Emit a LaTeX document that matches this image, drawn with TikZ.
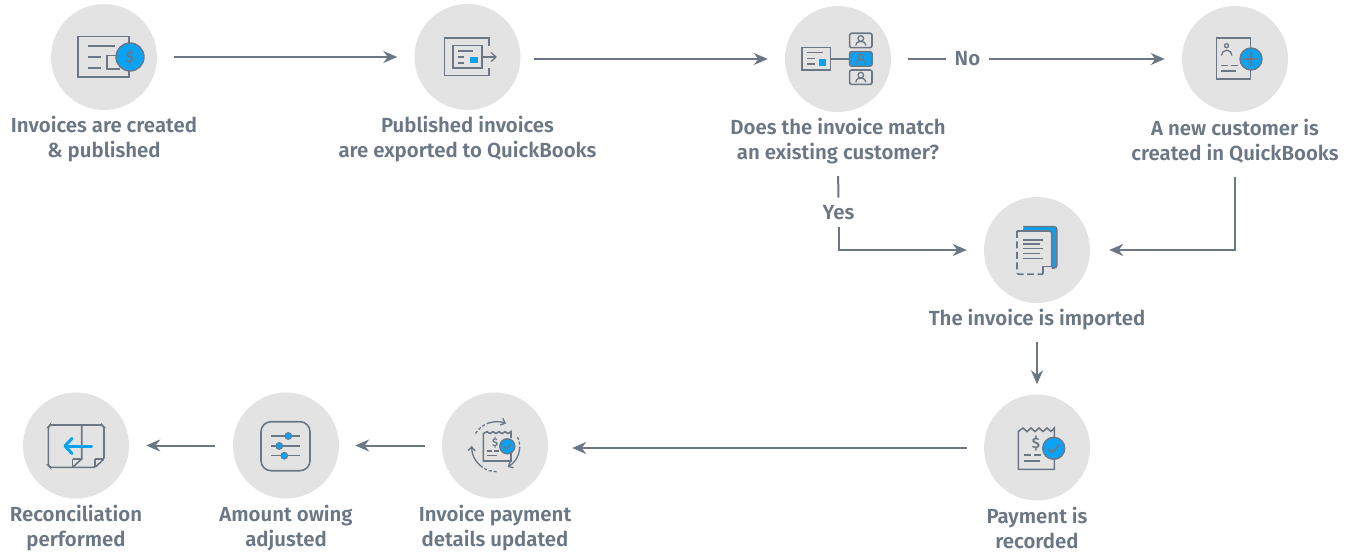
\documentclass[tikz,border=0pt]{standalone}
\usepackage{fontspec}
\setmainfont{Fira Sans}[UprightFont=* SemiBold]
\usetikzlibrary{arrows.meta,calc}
\definecolor{ink}{HTML}{6B7785}
\definecolor{disc}{HTML}{E3E3E3}
\definecolor{sky}{HTML}{0AA2F5}
\tikzset{
 x=1pt,y=-1pt,
 disc/.style={circle,fill=disc,minimum size=106pt,inner sep=0pt},
 lab/.style={text=ink,align=center,font=\fontsize{20.4}{25}\selectfont,inner sep=0pt},
 conn/.style={draw=ink,line width=2pt,-{Stealth[length=14pt,width=12pt]}},
 plain/.style={draw=ink,line width=2pt},
 ic/.style={draw=ink,line width=1.6pt},
 thin ic/.style={draw=ink,line width=1.3pt},
 badge/.style={fill=sky,draw=ink,line width=1.4pt},
 sym/.style={text=ink,font=\fontsize{15}{15}\selectfont,inner sep=0pt}
}
\begin{document}
\begin{tikzpicture}
\useasboundingbox (0,0) rectangle (1355,553);
% discs
\node[disc] (c1) at (104,57) {};
\node[disc] (c2) at (467.5,57) {};
\node[disc] (c3) at (838,59) {};
\node[disc] (c4) at (1235,59) {};
\node[disc] (c5) at (1037,250) {};
\node[disc] (c6) at (1037,447.5) {};
\node[disc] (c7) at (495,445.5) {};
\node[disc] (c8) at (286,445.5) {};
\node[disc] (c9) at (76,445.5) {};
% labels
\node[lab] (l1) at (104,139) {Invoices are created\\\&~published};
\node[lab] (l2) at (467.5,139) {Published invoices\\are exported to QuickBooks};
\node[lab] (l3) at (838,141) {Does the invoice match\\an existing customer?};
\node[lab] (l4) at (1235,141) {A new customer is\\created in QuickBooks};
\node[lab] (l5) at (1037,319.5) {The invoice is imported};
\node[lab] (l6) at (1037,528) {Payment is\\recorded};
\node[lab] (l7) at (495,528) {Invoice payment\\details updated};
\node[lab] (l8) at (286,528) {Amount owing\\adjusted};
\node[lab] (l9) at (76,528) {Reconciliation\\performed};
\node[lab] (no) at (967.5,59) {No};
\node[lab] (yes) at (838.5,213) {Yes};
% connectors
\draw[conn,shorten <=17pt,shorten >=17pt] (c1.east) -- (c2.west);
\draw[conn,shorten <=13pt,shorten >=17pt] ($(c2.east)+(0,2)$) -- (c3.west);
\draw[plain,shorten <=17pt,shorten >=9pt] (c3.east) -- (no.west);
\draw[conn,shorten <=9pt,shorten >=17pt] (no.east) -- (c4.west);
\draw[plain,shorten <=12pt,shorten >=8pt] (l3.south) -- (yes.north);
\draw[conn,shorten <=7pt,shorten >=17pt] (yes.south) |- (c5.west);
\draw[conn,shorten <=14pt,shorten >=19pt] (l4.south) |- (c5.east);
\draw[conn,shorten <=12pt,shorten >=10pt] (l5.south) -- (c6.north);
\draw[conn,shorten <=17pt,shorten >=24pt] ($(c6.west)+(0,0.5)$) -- ($(c7.east)+(0,2.5)$);
\draw[conn,shorten <=17pt,shorten >=16pt] (c7.west) -- (c8.east);
\draw[conn,shorten <=18pt,shorten >=17pt] (c8.west) -- (c9.east);
% icon 1
\draw[ic] (129,43)--(129,36.5)--(78,36.5)--(78,77)--(129,77)--(129,71);
\draw[ic] (87.5,46)--(115,46) (87.5,57)--(101,57) (87.5,68)--(101,68);
\draw[ic] (120,55.7)--(107,55.7)--(107,69)--(120,69);
\draw[badge] (130,57) circle (14);
\node[sym] at (130,57) {\$};
% icon 2
\draw[ic] (489,46)--(489,38.3)--(444.6,38.3)--(444.6,75.7)--(489,75.7)--(489,68);
\draw[ic] (453,45.7) rectangle (482,68.3);
\draw[thin ic] (458,51)--(473,51) (458,57)--(464,57) (458,63)--(464,63);
\fill[sky] (470,56.7) rectangle (477.5,63.3);
\draw[thin ic,-{Straight Barb[length=5pt,width=9pt]}] (482,57)--(497,57);
% icon 3
\draw[ic] (802,47.7) rectangle (830.6,70);
\draw[thin ic] (807,52.3)--(823,52.3) (807,58.3)--(815,58.3) (807,64)--(815,64);
\fill[sky] (819,58.7) rectangle (826,65.7);
\draw[ic] (830.6,59)--(849.6,59);
\foreach \yy/\ff in {40.5/none,58.9/sky,77.2/none}{
 \draw[ic,fill=\ff,rounded corners=2pt] (849.6,\yy-7.2) rectangle (872,\yy+7.2);
 \draw[thin ic] (860.8,\yy-2) circle (2.8);
 \draw[thin ic] (855.8,\yy+5) .. controls (856.5,\yy+1) and (859,\yy+1) .. (860.8,\yy+1) .. controls (862.6,\yy+1) and (865,\yy+1) .. (865.8,\yy+5);
}
% icon 4
\draw[ic] (1250.6,48)--(1250.6,38.3)--(1216.5,38.3)--(1216.5,79)--(1250.6,79)--(1250.6,70);
\draw[thin ic] (1226.5,45.7) circle (2);
\draw[thin ic] (1221.4,55.5) arc (-180:0:5.3);
\draw[thin ic] (1221.4,65.7)--(1228,65.7) (1231,65.7)--(1238,65.7) (1221.4,71)--(1235.5,71);
\draw[badge] (1251,59) circle (11);
\draw[thin ic] (1251,52)--(1251,66) (1244,59)--(1258,59);
% icon 5
\fill[sky,rounded corners=2.5pt] (1023,226.7) rectangle (1056.7,268);
\draw[ic,rounded corners=2.5pt] (1023,226.7)--(1056.7,226.7)--(1056.7,268)--(1049,268);
\fill[disc,rounded corners=2pt] (1017,231) rectangle (1051.7,274.3);
\draw[ic,rounded corners=2pt] (1051.7,266.7)--(1051.7,231)--(1017,231);
\draw[ic,dash pattern=on 7pt off 3.5pt,rounded corners=2pt] (1017,231)--(1017,274.3)--(1043,274.3);
\draw[ic] (1043,274.3)--(1043,266.7)--(1051.7,266.7);
\draw[thin ic] (1023,240)--(1042.7,240) (1023,244)--(1040,244) (1023,248.3)--(1042.7,248.3) (1023,253.3)--(1040,253.3) (1023,258.3)--(1042.7,258.3);
% icon 6
\draw[ic] (1054.3,438)--(1054.3,428) -- (1051,431.5) -- (1047,428) -- (1043,431.5) -- (1039,428) -- (1035,431.5) -- (1031,428) -- (1027,431.5) -- (1023,428) -- (1018.3,431.5) -- (1018.3,469.3) -- (1054.3,469.3) -- (1054.3,459);
\draw[thin ic] (1024,455)--(1031,455) (1034,455)--(1041,455) (1024,461)--(1040,461);
\node[sym] at (1036,443) {\$};
\draw[badge] (1053.7,448.3) circle (11);
\draw[ic,line width=1.7pt] (1048,448.5)--(1052,452.5)--(1059.5,444.5);
% icon 7
\draw[ic] (511,438)--(511,431.7) -- (508,433.5) -- (505,431.7) -- (502,433.5) -- (499,431.7) -- (496,433.5) -- (493,431.7) -- (490,433.5) -- (487,431.7) -- (483.3,433.5) -- (483.3,461) -- (511,461) -- (511,453);
\draw[thin ic] (487,451)--(492,451) (494,451)--(499,451) (487,455.7)--(497,455.7);
\node[sym,font=\fontsize{11}{11}\selectfont] at (495,443) {\$};
\draw[badge] (507.3,446.3) circle (7.5);
\draw[thin ic] (503.8,446.5)--(506.5,449)--(511,444);
\def\cx{496.7}\def\cy{446.7}
\draw[thin ic,dash pattern=on 3pt off 2pt] ($(\cx,\cy)+(-148:25)$) arc[start angle=-148,end angle=-110,radius=25];
\draw[thin ic,-{Straight Barb[length=4pt,width=7pt]}] ($(\cx,\cy)+(-110:25)$) arc[start angle=-110,end angle=-68,radius=25];
\draw[thin ic,dash pattern=on 3pt off 2pt] ($(\cx,\cy)+(-25:23)$) arc[start angle=-25,end angle=5,radius=23];
\draw[thin ic,-{Straight Barb[length=4pt,width=7pt]}] ($(\cx,\cy)+(5:23)$) arc[start angle=5,end angle=62,radius=23];
\draw[thin ic,dash pattern=on 3pt off 2pt] ($(\cx,\cy)+(90:25)$) arc[start angle=90,end angle=125,radius=25];
\draw[thin ic,-{Straight Barb[length=4pt,width=7pt]}] ($(\cx,\cy)+(125:25)$) arc[start angle=125,end angle=182,radius=25];
% icon 8
\draw[ic,rounded corners=10pt] (261,421.7) rectangle (310,470.7);
\draw[thin ic] (271,436)--(300,436) (271,446)--(300,446) (271,455.7)--(300,455.7);
\fill[sky,draw=ink,line width=.9pt] (288.3,436) circle (3.4) (279.3,446) circle (3.4) (284.3,455.7) circle (3.4);
% icon 9
\draw[ic,rounded corners=1.5pt] (72.7,467.3)--(50,467.3)--(48.3,465.5)--(48.3,427)--(50,425)--(102,425)--(104,427)--(104,459)--(95,467.3)--(72.7,467.3);
\draw[ic] (81.7,425)--(81.7,459)--(72.7,467.3);
\draw[thin ic] (72.7,459)--(81.7,459) (72.7,459)--(72.7,467.3) (95,459)--(104,459) (95,459)--(95,467.3);
\draw[sky,line width=3pt,line cap=round] (91.7,446)--(67,446);
\draw[sky,line width=3pt,line cap=round,line join=round] (72,438.5)--(65,446)--(72,453.5);
\end{tikzpicture}
\end{document}
